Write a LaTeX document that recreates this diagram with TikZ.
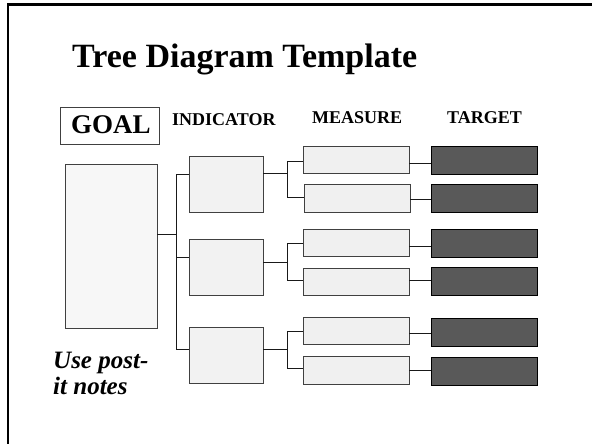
\documentclass[tikz,border=0pt]{standalone}
\usepackage{fontspec}
\setmainfont{Liberation Serif}
\begin{document}
\begin{tikzpicture}[x=1pt,y=-1pt,
  box/.style={draw=black!75,line width=0.9pt,inner sep=0pt,outer sep=0pt,anchor=north west},
  goalbox/.style={box,fill=black!3,minimum width=92pt,minimum height=164pt},
  indbox/.style={box,fill=black!5,minimum width=74pt,minimum height=56.5pt},
  measbox/.style={box,fill=black!6,minimum width=106pt,minimum height=27.5pt},
  targbox/.style={box,draw=black,fill=black!65,minimum width=106pt,minimum height=28pt},
  link/.style={draw=black!90,line width=0.8pt},
  head/.style={font=\bfseries\fontsize{18}{20}\selectfont,anchor=base west,inner sep=0pt},
  note/.style={font=\bfseries\itshape\fontsize{25}{26}\selectfont,anchor=base west,inner sep=0pt}]
\useasboundingbox (0,0) rectangle (592,444);
\fill[white] (0,0) rectangle (592,444);

% slide frame (top and left edges)
\draw[line width=2.3pt] (592,4.5) -- (8,4.5) -- (8,444);

% title and column headings
\node[anchor=base west,inner sep=0pt,font=\bfseries\fontsize{34}{36}\selectfont] (title) at (72,67) {Tree Diagram Template};
\node[draw=black!75,line width=0.9pt,minimum width=99pt,minimum height=37pt,inner sep=0pt,anchor=north west,
      font=\bfseries\fontsize{27}{28}\selectfont] (goalhead) at (60,107) {};
\node[anchor=base west,inner sep=0pt,font=\bfseries\fontsize{27}{28}\selectfont] (goaltxt) at (71,133) {GOAL};
\node[head] (indhead) at (172,125.5) {INDICATOR};
\node[head] (meashead) at (312,123.3) {MEASURE};
\node[head] (targhead) at (447,123.3) {TARGET};

% boxes
\node[goalbox] (goal) at (65,164) {};
\node[indbox] (ind1) at (189,156) {};
\node[indbox] (ind2) at (189,239) {};
\node[indbox] (ind3) at (189,327) {};

\node[measbox] (m1) at (303,146) {};
\node[measbox] (m2) at (304,184.5) {};
\node[measbox] (m3) at (303,229) {};
\node[measbox] (m4) at (303,268) {};
\node[measbox] (m5) at (303,317) {};
\node[measbox] (m6) at (303,356.5) {};

\node[targbox] (t1) at (431,146) {};
\node[targbox] (t2) at (431,184.5) {};
\node[targbox] (t3) at (431,229) {};
\node[targbox] (t4) at (431,267) {};
\node[targbox] (t5) at (431,318) {};
\node[targbox] (t6) at (431,357) {};

% junction points of the tree
\coordinate (g0) at (176,234);
\coordinate (g1) at (176,174);
\coordinate (g2) at (176,257);
\coordinate (g3) at (176,349);

\coordinate (a0) at (287,173);
\coordinate (a1) at (287,161);
\coordinate (a2) at (287,197);
\coordinate (b0) at (287,262);
\coordinate (b1) at (287,243);
\coordinate (b2) at (287,280);
\coordinate (c0) at (287,349);
\coordinate (c1) at (287,331);
\coordinate (c2) at (287,368);

% goal to indicators
\draw[link] (goal.east |- g0) -- (g0);
\draw[link] (ind1.west |- g1) -- (g1) -- (g3) -- (ind3.west |- g3);
\draw[link] (g2) -- (ind2.west |- g2);

% indicators to measures
\draw[link] (ind1.east |- a0) -- (a0);
\draw[link] (m1.west |- a1) -- (a1) -- (a2) -- (m2.west |- a2);
\draw[link] (ind2.east |- b0) -- (b0);
\draw[link] (m3.west |- b1) -- (b1) -- (b2) -- (m4.west |- b2);
\draw[link] (ind3.east |- c0) -- (c0);
\draw[link] (m5.west |- c1) -- (c1) -- (c2) -- (m6.west |- c2);

% measures to targets
\draw[link] (m1.east |- 0,163) -- (t1.west |- 0,163);
\draw[link] (m2.east |- 0,199) -- (t2.west |- 0,199);
\draw[link] (m3.east |- 0,246) -- (t3.west |- 0,246);
\draw[link] (m4.east |- 0,280) -- (t4.west |- 0,280);
\draw[link] (m5.east |- 0,333) -- (t5.west |- 0,333);
\draw[link] (m6.east |- 0,370) -- (t6.west |- 0,370);

% hint
\node[note] (note1) at (53,368) {Use post-};
\node[note] (note2) at (53,394) {it notes};
\end{tikzpicture}
\end{document}
